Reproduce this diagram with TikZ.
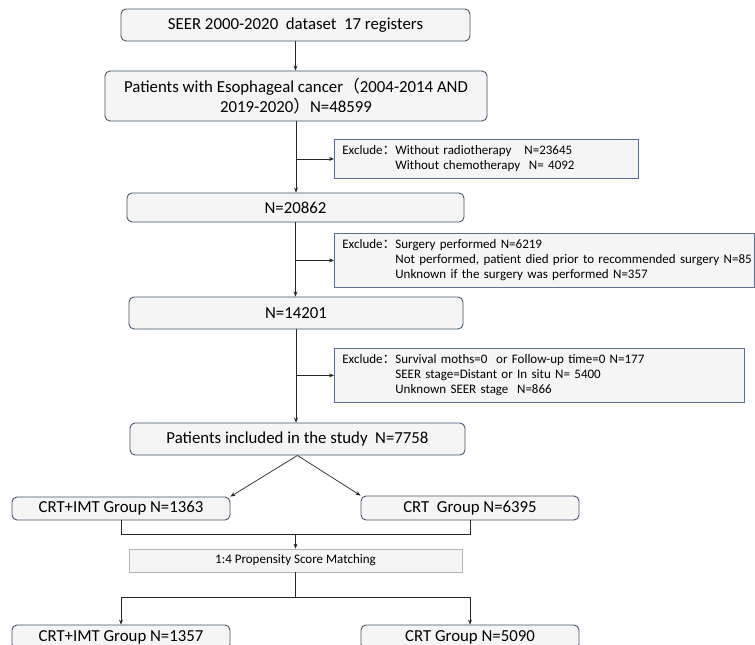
\documentclass[tikz,border=0pt]{standalone}
\usepackage{fontspec}
\setmainfont{Carlito}
\newfontfamily\cjk{Noto Sans CJK SC}
\usetikzlibrary{arrows.meta}
\definecolor{bord}{HTML}{44546A}
\definecolor{exbord}{HTML}{5E6E8C}
\definecolor{boxfill}{HTML}{F5F5F6}
\definecolor{psmbord}{HTML}{B4B4B4}
\definecolor{linec}{HTML}{262626}
\newcommand{\exlab}{\makebox[53pt][l]{Exclude{\cjk ：}}}
\begin{document}
\begin{tikzpicture}[x=1pt,y=-1pt,
  mainbox/.style={draw=bord, line width=0.9pt, fill=boxfill, rounded corners=5pt,
    font=\fontsize{16.8}{20}\selectfont, inner sep=0pt, align=center},
  exbox/.style={draw=exbord, line width=0.8pt, fill=boxfill, anchor=north west,
    font=\fontsize{13}{15}\selectfont, inner xsep=8pt, inner ysep=0pt, align=left},
  psmbox/.style={draw=psmbord, line width=0.8pt, fill=boxfill,
    font=\fontsize{13}{15}\selectfont, inner sep=0pt, align=center},
  conn/.style={draw=linec, line width=0.7pt},
  arr/.style={conn, -{Stealth[length=5pt,width=4pt]}}]
\clip (0,0) rectangle (755,645);
\fill[white] (0,0) rectangle (755,645);

% main flow
\node[mainbox, minimum width=349pt, minimum height=32pt] (b1) at (295.5,25)
  {SEER 2000-2020\ \ dataset\ \ 17 registers};
\node[mainbox, minimum width=382pt, minimum height=50pt] (b2) at (296,96)
  {Patients with Esophageal cancer{\cjk （}2004-2014 AND\\2019-2020{\cjk ）}N=48599};
\node[mainbox, minimum width=337pt, minimum height=29pt] (b3) at (295.5,207.5) {N=20862};
\node[mainbox, minimum width=334pt, minimum height=32pt] (b4) at (296,313) {N=14201};
\node[mainbox, minimum width=335pt, minimum height=32pt] (b5) at (297.5,439)
  {Patients included in the study\ \ N=7758};

% exclusion boxes
\node[exbox, text width=288pt, minimum height=39pt] (e1) at (334,139)
  {\exlab Without radiotherapy\hspace{13pt}N=23645\\
   \hspace*{53pt}Without chemotherapy\ \ N= 4092};
\node[exbox, text width=404pt, minimum height=54pt] (e2) at (334,233)
  {\exlab Surgery performed N=6219\\
   \hspace*{53pt}\makebox[0pt][l]{Not performed, patient died prior to recommended surgery N=85}\\
   \hspace*{53pt}Unknown if the surgery was performed N=357};
\node[exbox, text width=394pt, minimum height=54pt] (e3) at (334,348)
  {\exlab Survival moths=0\ \ or Follow-up time=0 N=177\\
   \hspace*{53pt}SEER stage=Distant or In situ N= 5400\\
   \hspace*{53pt}Unknown SEER stage\ \ N=866};

% groups
\node[mainbox, minimum width=218pt, minimum height=23pt] (g1) at (121,508.5) {CRT+IMT Group N=1363};
\node[mainbox, minimum width=218pt, minimum height=24pt] (g2) at (470,508) {CRT\ \ Group N=6395};
\node[psmbox, minimum width=333pt, minimum height=23pt] (psm) at (295.5,560.5) {1:4 Propensity Score Matching};
\node[mainbox, minimum width=218pt, minimum height=24pt] (g3) at (121,637) {CRT+IMT Group N=1357};
\node[mainbox, minimum width=218pt, minimum height=24pt] (g4) at (470,637) {CRT Group N=5090};

% connectors
\draw[arr] (b1.south) -- (b1.south |- b2.north);
\draw[arr] (b2.south) -- (b2.south |- b3.north);
\draw[arr] (b2.south |- e1.west) -- (e1.west);
\draw[arr] (b3.south) -- (b3.south |- b4.north);
\draw[arr] (b3.south |- e2.west) -- (e2.west);
\draw[arr] (b4.south) -- (b4.south |- b5.north);
\draw[arr] (b4.south |- e3.west) -- (e3.west);

\draw[arr] (b5.south) -- (g1.north east);
\draw[arr] (b5.south) -- (g2.north west);

\path (g1.south) ++(0,14) coordinate (j1);
\draw[conn] (g1.south) -- (j1) -| (g2.south);
\draw[arr] (j1 -| psm.north) -- (psm.north);

\path (psm.south) ++(0,25) coordinate (j2);
\draw[conn] (psm.south) -- (j2);
\draw[arr] (j2) -| (g3.north);
\draw[arr] (j2) -| (g4.north);
\end{tikzpicture}
\end{document}
